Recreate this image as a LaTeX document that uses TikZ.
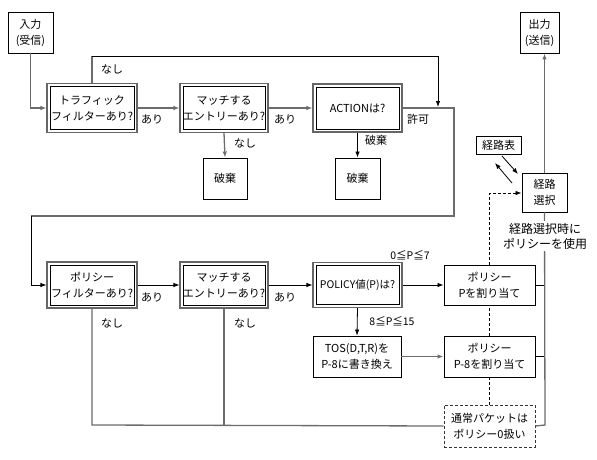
\documentclass[tikz,border=0pt]{standalone}
\usepackage{fontspec}
\setmainfont{Noto Sans CJK JP}
\usetikzlibrary{arrows.meta}
\begin{document}
\begin{tikzpicture}[x=1pt,y=-1pt,
  every node/.style={font=\fontsize{11}{16}\selectfont, align=center, inner sep=0pt},
  sbox/.style={draw=black, line width=0.9pt, fill=white},
  dbox/.style={draw=gray!80!black, line width=1.1pt, fill=white},
  dsbox/.style={draw=black!80, line width=0.9pt, dash pattern=on 3pt off 2pt, fill=white},
  gl/.style={draw=gray!85!black, line width=1.3pt},
  bl/.style={draw=black, line width=0.8pt},
  dl/.style={draw=black, line width=0.8pt, dash pattern=on 3pt off 2pt},
  arr/.style={-{Latex[length=6pt,width=4.5pt]}},
  lbl/.style={font=\fontsize{11}{13}\selectfont}
]
\useasboundingbox (0,0) rectangle (597,460);

% nodes
\node[sbox, minimum width=45, minimum height=41] (in) at (30.5,32.5) {入力\\(受信)};
\node[dbox, minimum width=90, minimum height=49] (f1) at (92,108) {トラフィック\\フィルターあり?};
\node[dbox, minimum width=88, minimum height=49] (m1) at (224,108) {マッチする\\エントリーあり?};
\node[dbox, minimum width=89, minimum height=48] (act) at (357.5,108) {ACTIONは?};
\node[sbox, minimum width=44, minimum height=41] (hk1) at (225,178.5) {破棄};
\node[sbox, minimum width=45, minimum height=41] (hk2) at (357.5,178.5) {破棄};
\node[sbox, minimum width=39, minimum height=41] (out) at (539.5,32.5) {出力\\(送信)};
\node[sbox, minimum width=45, minimum height=18] (hyo) at (498.5,145) {経路表};
\node[sbox, minimum width=45, minimum height=39] (keiro) at (544.5,192.5) {経路\\選択};

\node[dbox, minimum width=90, minimum height=46] (pf) at (92,285) {ポリシー\\フィルターあり?};
\node[dbox, minimum width=88, minimum height=46] (m2) at (224,285) {マッチする\\エントリーあり?};
\node[dbox, minimum width=89, minimum height=45] (pol) at (357.5,285) {\fontsize{10.5}{12}\selectfont POLICY値(P)は?};
\node[sbox, minimum width=91, minimum height=40] (pp) at (489.5,285) {ポリシー\\Pを割り当て};
\node[sbox, minimum width=88, minimum height=41] (tos) at (357,356.5) {TOS(D,T,R)を\\P-8に書き換え};
\node[sbox, minimum width=91, minimum height=41] (pp8) at (489.5,356.5) {ポリシー\\P-8を割り当て};
\node[dsbox, minimum width=91, minimum height=42] (norm) at (489.5,426) {通常パケットは\\ポリシー0扱い};

% inner frames of the double boxes
\foreach \n in {f1,m1,act,pf,m2,pol}
  \draw[bl] ([shift={(3.5,3.5)}]\n.north west) rectangle ([shift={(-3.5,-3.5)}]\n.south east);

% coordinates
\coordinate (tA) at (438,56);
\coordinate (byp) at (438,107);
\coordinate (fr1) at (454,108);
\coordinate (fr2) at (454,216);
\coordinate (fr3) at (31,216);
\coordinate (bot) at (92,425);
\coordinate (rj1) at (545,285);
\coordinate (rj2) at (545,356.5);
\coordinate (rj3) at (545,425);
\coordinate (dsh) at (490,193);
\coordinate (h1) at (502,156);
\coordinate (k1) at (518,174);
\coordinate (k2) at (512,183);
\coordinate (h2) at (495,163);

% upper flow
\draw[gl, arr] (in.south) |- (f1.west);
\draw[gl] (f1.north) -- (f1.north |- tA);
\draw[bl, arr] (f1.north |- tA) -- (tA) -- (byp);
\draw[gl, arr] (f1.east) -- (m1.west);
\draw[gl, arr] (m1.east) -- (act.west);
\draw[gl, arr] (m1.south) -- (hk1.north);
\draw[bl, arr] (act.south) -- (hk2.north);
\draw[gl] (act.east) -- (fr1) -- (fr2) -- (fr3);
\draw[bl, arr] (fr3) |- (pf.west);

\node[lbl] at (112,69) {なし};
\node[lbl] at (152,119) {あり};
\node[lbl] at (285,119) {あり};
\node[lbl] at (245,143) {なし};
\node[lbl] at (376,140) {破棄};
\node[lbl] at (418,119) {許可};

% lower flow
\draw[bl, arr] (pf.east) -- (m2.west);
\draw[bl, arr] (m2.east) -- (pol.west);
\draw[bl, arr] (pol.east) -- (pp.west);
\draw[bl, arr] (pol.south) -- (tos.north);
\draw[gl, arr] (tos.east) -- (pp8.west);
\draw[gl] (pf.south) -- (bot) -- (norm.west);
\draw[gl] (m2.south) -- (m2.south |- bot);

\node[lbl] at (152,297) {あり};
\node[lbl] at (285,297) {あり};
\node[lbl] at (112,323) {なし};
\node[lbl] at (245,323) {なし};
\node[lbl, font=\fontsize{10.5}{12}\selectfont] at (410,255) {0≦P≦7};
\node[lbl, font=\fontsize{10.5}{12}\selectfont] at (392,321) {8≦P≦15};

% right side
\draw[bl] (pp.east) -- (rj1);
\draw[bl] (pp8.east) -- (rj2);
\draw[gl] (norm.east) -- (rj3) -- (keiro.south);
\draw[gl, arr] (keiro.north) -- (keiro.north |- out.south);
\node[fill=white, inner sep=2pt, font=\fontsize{12}{15}\selectfont] (use) at (545,236) {経路選択時に\\ポリシーを使用};

\draw[dl] (norm.north) -- (norm.north |- pp8.south);
\draw[dl] (pp8.north) -- (pp8.north |- pp.south);
\draw[dl, arr] (pp.north) -- (pp.north |- dsh) -- (keiro.west |- dsh);

\draw[bl, arr] (h1) -- (k1);
\draw[bl, arr] (k2) -- (h2);
\end{tikzpicture}
\end{document}
